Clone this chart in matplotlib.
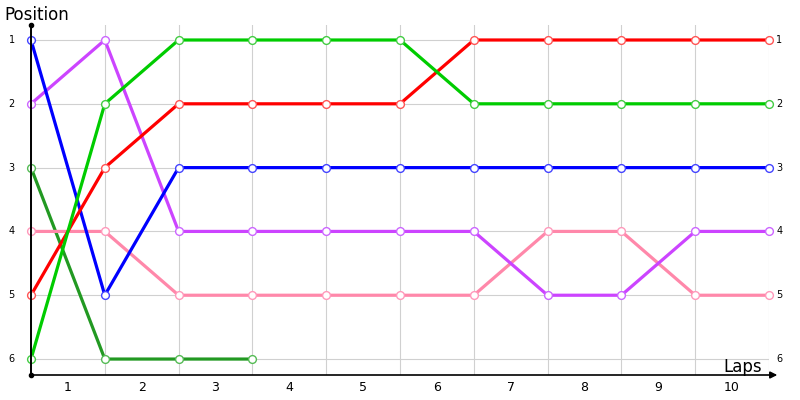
import numpy as np
import matplotlib.pyplot as plt

# positions per lap boundary (0..10)
laps = list(range(11))
lap_labels = ["1", "2", "3", "4", "5", "6", "7", "8", "9", "10"]
positions = [1, 2, 3, 4, 5, 6]

blue = [1, 5, 3, 3, 3, 3, 3, 3, 3, 3, 3]
purple = [2, 1, 4, 4, 4, 4, 4, 5, 5, 4, 4]
green = [6, 2, 1, 1, 1, 1, 2, 2, 2, 2, 2]
red = [5, 3, 2, 2, 2, 2, 1, 1, 1, 1, 1]
pink = [4, 4, 5, 5, 5, 5, 5, 4, 4, 5, 5]
darkgreen = [3, 6, 6, 6]

series = [
    (darkgreen, "#229922", "#55bb55"),
    (pink, "#ff88aa", "#ff99bb"),
    (purple, "#cc44ff", "#cc66ff"),
    (blue, "#0000ff", "#4444ff"),
    (red, "#ff0000", "#ff5555"),
    (green, "#00cc00", "#44cc44"),
]

fig = plt.figure(figsize=(8, 4), dpi=100)
ax = fig.add_axes([31/800, 25/400, 738/800, 350/400])
ax.set_xlim(0, 10)
ax.set_ylim(6.25, 0.765)

for x in laps:
    ax.axvline(x, color="#d0d0d0", lw=0.8, zorder=0)
for y in positions:
    ax.axhline(y, color="#d0d0d0", lw=0.8, zorder=0)

for vals, col, mcol in series:
    ax.plot(laps[:len(vals)], vals, color=col, lw=2.3, marker="o", ms=5.6,
            mfc="white", mec=mcol, mew=1.0, zorder=3, clip_on=False)

for s in ax.spines.values():
    s.set_visible(False)
ax.set_xticks([])
ax.set_yticks([])

# axes with arrows
ax.annotate("", xy=(10.15, 6.25), xytext=(0, 6.25),
            arrowprops=dict(arrowstyle="-|>", color="black", lw=1.2,
                            mutation_scale=10), annotation_clip=False)
ax.plot([0, 0], [6.25, 0.765], color="black", lw=1.4, clip_on=False, zorder=4)
ax.plot([0], [0.765], "o", color="black", ms=3, clip_on=False, zorder=4)
ax.plot([0], [6.25], "o", color="black", ms=3, clip_on=False, zorder=4)

for p in positions:
    ax.text(-0.22, p, str(p), ha="right", va="center", fontsize=7)
    ax.text(10.1, p, str(p), ha="left", va="center", fontsize=7)
for i, lab in enumerate(lap_labels):
    ax.text(i + 0.5, 6.45, lab, ha="center", va="center", fontsize=9)

fig.text(4/800, 1 - 15/400, "Position", ha="left", va="center", fontsize=12)
fig.text(762/800, 1 - 367/400, "Laps", ha="right", va="center", fontsize=12)

fig.savefig("out.png", dpi=100)
